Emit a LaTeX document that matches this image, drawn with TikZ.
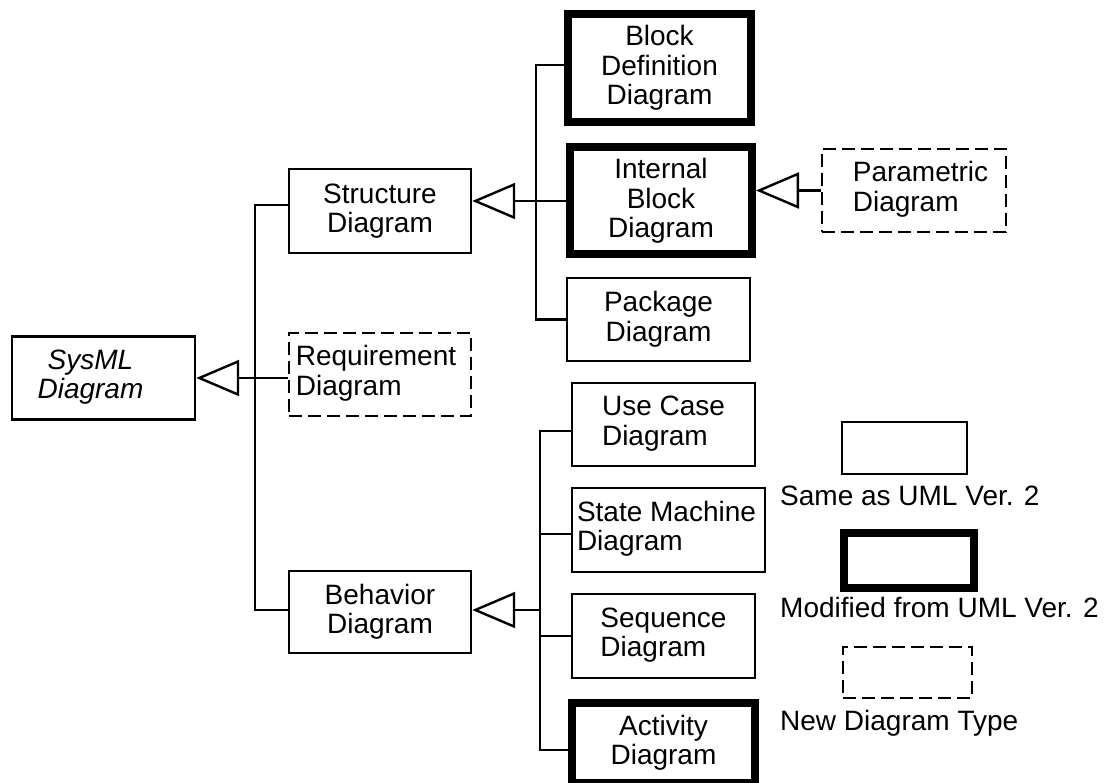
\documentclass[tikz,border=0pt]{standalone}
\usepackage{fontspec}
\setmainfont{Liberation Sans}
\usetikzlibrary{arrows.meta}

\begin{document}
\begin{tikzpicture}[x=1pt, y=-1pt,
  every node/.style={font=\fontsize{28}{29.5}\selectfont, inner sep=0pt},
  box/.style={draw, rectangle, line width=2.4pt, align=center},
  thickbox/.style={box, line width=8pt},
  newbox/.style={box, dash pattern=on 13pt off 6pt},
  link/.style={line width=2.4pt},
  gen/.style={link, -{Triangle[open, length=43pt, width=36pt]}},
]
\useasboundingbox (0,0) rectangle (1111,783);
\fill[white] (0,0) rectangle (1111,783);

% root
\node[box, minimum width=183pt, minimum height=83pt] (sysml) at (103.5,378)
  {\itshape\begin{tabular}{@{}c@{}}SysML\\Diagram\end{tabular}\hspace{26pt}};

% first level
\node[box, minimum width=182pt, minimum height=84pt] (struct) at (380,211) {Structure\\Diagram};
\node[newbox, minimum width=182pt, minimum height=83pt] (req) at (380,374.5)
  {\begin{tabular}{@{}l@{}}Requirement\\Diagram\end{tabular}\hspace{8pt}};
\node[box, minimum width=182pt, minimum height=82pt] (behav) at (380,612) {Behavior\\Diagram};

% structure diagrams
\node[thickbox, minimum width=183pt, minimum height=108pt] (bdd) at (659.5,68) {Block\\Definition\\Diagram};
\node[thickbox, minimum width=182pt, minimum height=107pt] (ibd) at (661,201) {Internal\\Block\\Diagram};
\node[box, minimum width=183pt, minimum height=83pt] (pkg) at (658.5,319.5) {Package\\Diagram};
\node[newbox, minimum width=184pt, minimum height=83pt] (param) at (914,190.5)
  {\hspace{13pt}\begin{tabular}{@{}l@{}}Parametric\\Diagram\end{tabular}};

% behavior diagrams
\node[box, minimum width=183pt, minimum height=83pt] (usecase) at (663.5,424.5)
  {\begin{tabular}{@{}l@{}}Use Case\\Diagram\end{tabular}};
\node[box, minimum width=193pt, minimum height=84pt] (statem) at (668.5,530)
  {\begin{tabular}{@{}l@{}}State Machine\\Diagram\end{tabular}\hspace{4pt}};
\node[box, minimum width=183pt, minimum height=84pt] (seq) at (663.5,636)
  {\begin{tabular}{@{}l@{}}Sequence\\Diagram\end{tabular}};
\node[thickbox, minimum width=183pt, minimum height=80pt] (act) at (663.5,743) {Activity\\Diagram};

% legend
\node[box, minimum width=125pt, minimum height=52pt] (legsame) at (904.5,448) {};
\node[anchor=base west] (legsametext) at (780,505) {Same as UML Ver. 2};
\node[thickbox, minimum width=130pt, minimum height=55pt] (legmod) at (908.5,560) {};
\node[anchor=base west] (legmodtext) at (780,617) {Modified from UML Ver. 2};
\node[newbox, minimum width=129pt, minimum height=51pt] (legnew) at (907.5,672.5) {};
\node[anchor=base west] (legnewtext) at (780,730) {New Diagram Type};

% generalization: root
\coordinate (j1) at (255,378);
\draw[gen] (req.west |- sysml.east) -- (sysml.east);
\draw[link] ([yshift=6pt]struct.west) -| (j1) |- ([yshift=2pt]behav.west);

% generalization: structure
\coordinate (j2) at (536,201);
\draw[gen] (ibd.west) -- (ibd.west -| struct.east);
\draw[link] ([yshift=3pt]bdd.west) -| (j2) |- (pkg.west);

% generalization: internal block
\draw[gen] (param.west) -- (param.west -| ibd.east);

% generalization: behavior
\coordinate (j3) at (540,610);
\draw[gen] (j3) -- (j3 -| behav.east);
\draw[link] ([yshift=-6.5pt]usecase.west) -| (j3) |- ([yshift=-7pt]act.west);
\draw[link] ([yshift=-4pt]statem.west) -- ([yshift=-4pt]statem.west -| j3);
\draw[link] (seq.west) -- (seq.west -| j3);
\end{tikzpicture}
\end{document}
